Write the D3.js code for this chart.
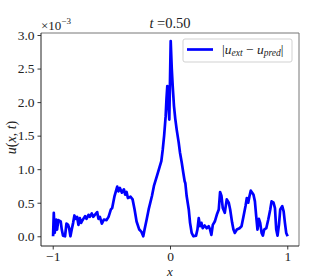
<!DOCTYPE html>
<html>
<head>
<meta charset="utf-8">
<script src="https://cdn.jsdelivr.net/npm/d3@7"></script>
<style>
  body { margin: 0; background: #fff; }
  text { font-family: "Liberation Serif", "DejaVu Serif", serif; fill: #222; }
</style>
</head>
<body>
<svg width="332" height="277"></svg>
<script>
// error |u_ext - u_pred| at t = 0.50 (values in units of 1e-3)
var xs = [-0.997,-0.991,-0.983,-0.969,-0.963,-0.952,-0.932,-0.923,-0.912,-0.895,
  -0.883,-0.869,-0.860,-0.849,-0.838,-0.826,-0.815,-0.803,-0.792,-0.781,
  -0.769,-0.758,-0.746,-0.724,-0.712,-0.695,-0.684,-0.667,-0.655,-0.621,
  -0.610,-0.598,-0.581,-0.564,-0.541,-0.524,-0.504,-0.493,-0.473,-0.450,
  -0.439,-0.427,-0.410,-0.393,-0.382,-0.370,-0.359,-0.336,-0.319,-0.302,
  -0.285,-0.262,-0.245,-0.228,-0.217,-0.199,-0.182,-0.154,-0.137,-0.108,
  -0.091,-0.074,-0.062,-0.050,-0.037,-0.030,-0.023,-0.015,-0.006,0.006,
  0.015,0.023,0.034,0.045,0.057,0.074,0.085,0.100,0.114,0.125,
  0.131,0.142,0.160,0.171,0.185,0.199,0.222,0.234,0.245,0.256,
  0.268,0.279,0.296,0.313,0.330,0.342,0.353,0.365,0.382,0.399,
  0.416,0.427,0.439,0.450,0.467,0.484,0.501,0.513,0.530,0.541,
  0.553,0.570,0.593,0.610,0.627,0.644,0.655,0.667,0.678,0.689,
  0.701,0.712,0.724,0.735,0.746,0.758,0.769,0.781,0.792,0.803,
  0.821,0.838,0.855,0.866,0.883,0.895,0.906,0.917,0.929,0.940,
  0.957,0.969,0.980,0.991,1.003];
var err = [0.00,0.35,0.05,0.25,0.10,0.24,0.22,0.10,0.01,0.00,
  0.19,0.17,0.12,0.00,0.10,0.20,0.31,0.26,0.29,0.17,
  0.27,0.20,0.24,0.30,0.26,0.32,0.29,0.34,0.29,0.36,
  0.26,0.29,0.19,0.25,0.24,0.29,0.40,0.42,0.60,0.74,
  0.67,0.72,0.65,0.70,0.62,0.66,0.57,0.59,0.55,0.40,
  0.22,0.10,0.07,0.00,0.10,0.25,0.40,0.60,0.75,0.92,
  1.02,1.12,1.29,1.50,1.79,2.05,2.24,2.00,1.74,2.91,
  2.50,2.24,1.94,1.75,1.59,1.40,1.25,1.10,0.94,0.82,
  0.79,0.60,0.40,0.20,0.05,0.00,0.01,0.10,0.27,0.15,
  0.20,0.12,0.16,0.12,0.15,0.10,0.02,0.17,0.22,0.32,
  0.40,0.66,0.60,0.42,0.35,0.55,0.50,0.40,0.20,0.10,
  0.05,0.10,0.12,0.15,0.30,0.45,0.57,0.50,0.60,0.68,
  0.65,0.62,0.52,0.30,0.10,0.26,0.20,0.05,0.01,0.10,
  0.12,0.25,0.40,0.52,0.50,0.42,0.10,0.01,0.17,0.40,
  0.45,0.37,0.20,0.05,0.00];
var xTicks = [-1, 0, 1];
var yTicks = [0, 0.5, 1.0, 1.5, 2.0, 2.5, 3.0];

var pl = 41, pt = 33, pr = 299, pb = 246;
var svg = d3.select("svg");

var x = d3.scaleLinear().domain([-1.1, 1.1]).range([pl, pr]);
var y = d3.scaleLinear().domain([-0.145, 3.03]).range([pb, pt]);

var pts = xs.map(function(d, i){ return [d, err[i]]; });

svg.append("path")
  .datum(pts)
  .attr("fill", "none")
  .attr("stroke", "#0000ff")
  .attr("stroke-width", 2.7)
  .attr("stroke-linejoin", "round")
  .attr("d", d3.line().x(function(d){ return x(d[0]); }).y(function(d){ return y(d[1]); }));

// frame: left/bottom dark, top/right softer like the original antialiasing
svg.append("line").attr("x1", pl).attr("x2", pr).attr("y1", pt).attr("y2", pt)
  .attr("stroke", "#777").attr("stroke-width", 1);
svg.append("line").attr("x1", pr).attr("x2", pr).attr("y1", pt).attr("y2", pb)
  .attr("stroke", "#777").attr("stroke-width", 1);
svg.append("line").attr("x1", pl).attr("x2", pl).attr("y1", pt).attr("y2", pb)
  .attr("stroke", "#222").attr("stroke-width", 1);
svg.append("line").attr("x1", pl).attr("x2", pr).attr("y1", pb).attr("y2", pb)
  .attr("stroke", "#222").attr("stroke-width", 1);

var xAxis = svg.append("g").attr("transform", "translate(0," + pb + ")")
  .call(d3.axisBottom(x).tickValues(xTicks).tickSize(3.5).tickPadding(2)
    .tickFormat(function(d){ return d < 0 ? "\u2212" + Math.abs(d) : d; }));
var yAxis = svg.append("g").attr("transform", "translate(" + pl + ",0)")
  .call(d3.axisLeft(y).tickValues(yTicks).tickSize(3.5).tickPadding(3)
    .tickFormat(d3.format(".1f")));
[xAxis, yAxis].forEach(function(a){
  a.select(".domain").remove();
  a.selectAll("line").attr("stroke", "#222").attr("stroke-width", 0.9);
  a.selectAll("text").attr("font-size", 13.5).attr("fill", "#222");
});

// offset label
var off = svg.append("text").attr("x", pl).attr("y", 30).attr("font-size", 13);
off.append("tspan").text("\u00d710");
off.append("tspan").attr("dy", -6).attr("font-size", 9).text("\u22123");

// title
var title = svg.append("text").attr("x", (pl + pr) / 2).attr("y", 28)
  .attr("text-anchor", "middle").attr("font-size", 14.5);
title.append("tspan").attr("font-style", "italic").text("t");
title.append("tspan").text(" =0.50");

// axis labels
svg.append("text").attr("x", x(0)).attr("y", 275.5).attr("text-anchor", "middle")
  .attr("font-size", 13).attr("font-style", "italic").text("x");
var yl = svg.append("text").attr("transform", "translate(16," + ((pt + pb) / 2 - 2) + ") rotate(-90)")
  .attr("text-anchor", "middle").attr("font-size", 14);
yl.append("tspan").attr("font-style", "italic").text("u");
yl.append("tspan").text("(");
yl.append("tspan").attr("font-style", "italic").text("x");
yl.append("tspan").text(", ");
yl.append("tspan").attr("font-style", "italic").text("t");
yl.append("tspan").text(")");

// legend
var lg = svg.append("g");
lg.append("rect").attr("x", 183).attr("y", 39).attr("width", 109).attr("height", 23)
  .attr("rx", 2).attr("fill", "#fff").attr("stroke", "#ccc").attr("stroke-width", 0.9);
lg.append("line").attr("x1", 187).attr("x2", 213).attr("y1", 49.5).attr("y2", 49.5)
  .attr("stroke", "#0000ff").attr("stroke-width", 2.7);
var lt = lg.append("text").attr("x", 222).attr("y", 54).attr("font-size", 13.5);
lt.append("tspan").text("|");
lt.append("tspan").attr("font-style", "italic").text("u");
lt.append("tspan").attr("font-style", "italic").attr("font-size", 9.5).attr("dy", 2).text("ext");
lt.append("tspan").attr("dy", -2).text(" \u2212 ");
lt.append("tspan").attr("font-style", "italic").text("u");
lt.append("tspan").attr("font-style", "italic").attr("font-size", 9.5).attr("dy", 2).text("pred");
lt.append("tspan").attr("dy", -2).text("|");
</script>
</body>
</html>
